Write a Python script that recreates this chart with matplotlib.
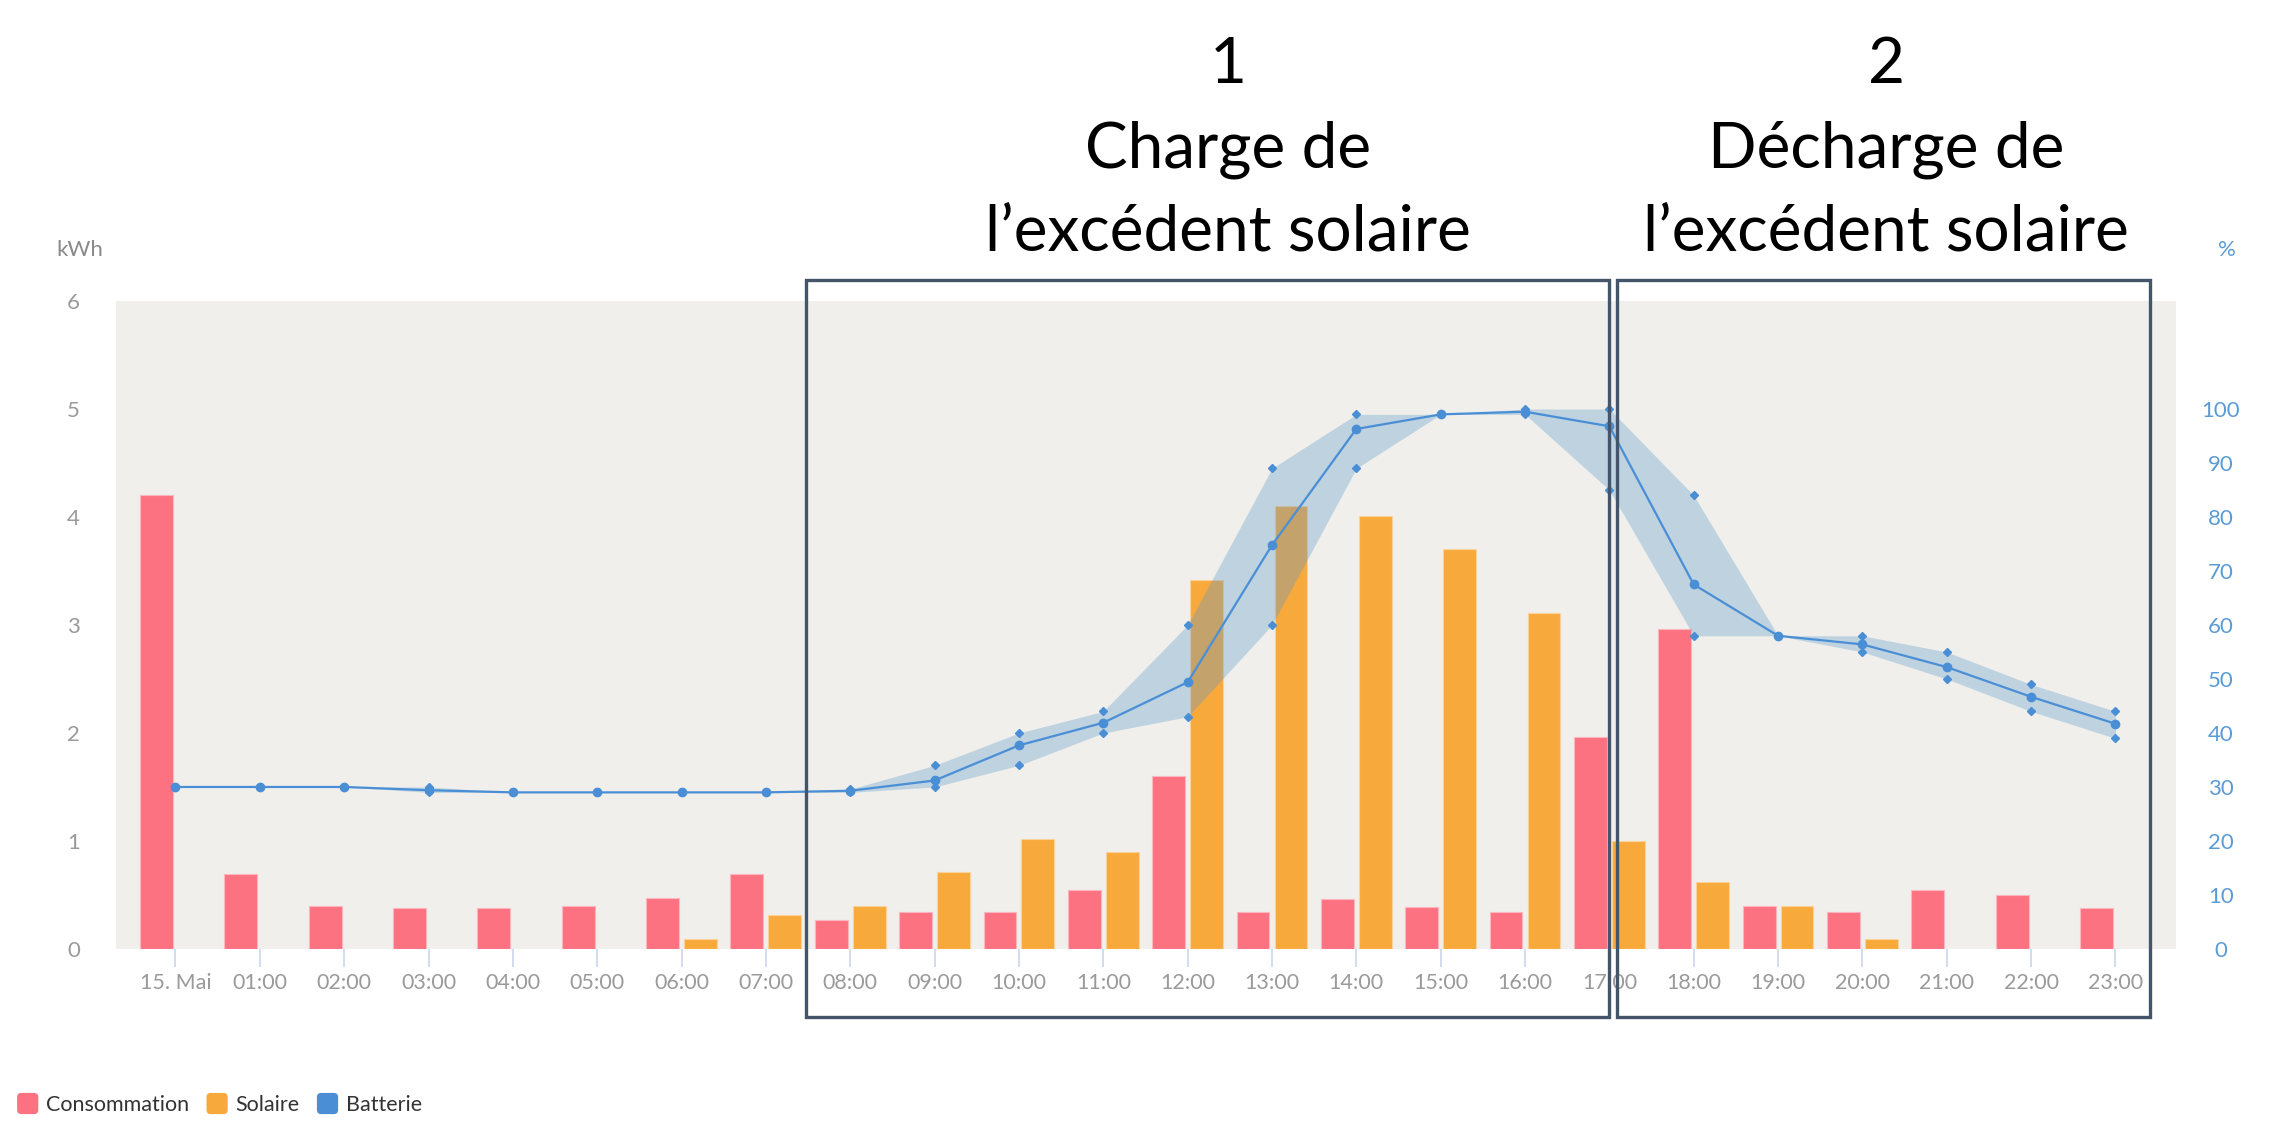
import numpy as np
import matplotlib.pyplot as plt
from matplotlib.patches import Rectangle, Patch, FancyBboxPatch
from matplotlib.legend_handler import HandlerPatch

hours = ["15. Mai", "01:00", "02:00", "03:00", "04:00", "05:00", "06:00", "07:00",
         "08:00", "09:00", "10:00", "11:00", "12:00", "13:00", "14:00", "15:00",
         "16:00", "17:00", "18:00", "19:00", "20:00", "21:00", "22:00", "23:00"]

# kWh
consommation = [4.20, 0.69, 0.40, 0.38, 0.38, 0.40, 0.47, 0.69, 0.27, 0.34, 0.34, 0.55,
                1.60, 0.34, 0.46, 0.39, 0.34, 1.96, 2.96, 0.40, 0.34, 0.55, 0.50, 0.38]
solaire = [0, 0, 0, 0, 0, 0, 0.09, 0.31, 0.40, 0.71, 1.02, 0.90,
           3.42, 4.10, 4.01, 3.70, 3.11, 1.00, 0.62, 0.40, 0.09, 0, 0, 0]

# battery state of charge, %
batterie = [30, 30, 30, 29.4, 29, 29, 29, 29, 29.3, 31.2, 37.7, 41.9,
            49.4, 74.8, 96.3, 99, 99.5, 96.8, 67.5, 58, 56.4, 52.2, 46.7, 41.7]
batterie_haut = [30, 30, 30, 30, 29, 29, 29, 29, 29.6, 34, 40, 44,
                 60, 89, 99, 99, 100, 100, 84, 58, 58, 55, 49, 44]
batterie_bas = [30, 30, 30, 29, 29, 29, 29, 29, 29, 30, 34, 40,
                43, 60, 89, 99, 99, 85, 58, 58, 55, 50, 44, 39]

kwh_ticks = [0, 1, 2, 3, 4, 5, 6]
pct_ticks = [0, 10, 20, 30, 40, 50, 60, 70, 80, 90, 100]

C_CONS = "#fc7281"
C_SOL = "#f7a93c"
C_BAT = "#4a8fd6"
C_BOX = "#44546a"

plt.rcParams["font.family"] = ["Lato", "DejaVu Sans"]


class RoundSquare(HandlerPatch):
    def create_artists(self, legend, orig_handle, xdescent, ydescent, width, height,
                       fontsize, trans):
        s = min(width, height) * 1.1
        p = FancyBboxPatch((-xdescent, -ydescent + (height - s) / 2), s, s,
                           boxstyle="round,pad=0,rounding_size=%f" % (s * 0.2),
                           fc=orig_handle.get_facecolor(), ec="none", transform=trans)
        return [p]


fig = plt.figure(figsize=(22.78, 11.32), dpi=100)
ax = fig.add_axes([0.0509, 0.1617, 0.9044, 0.5724])
ax.set_facecolor("#f0efeb")

x = np.arange(len(hours))
cons = np.array(consommation)
sol = np.array(solaire)
ax.bar(x - 0.225, cons, width=0.39, color=C_CONS, edgecolor="#fdb6bd", lw=0.8, zorder=2)
m = sol > 0
ax.bar(x[m] + 0.225, sol[m], width=0.39, color=C_SOL, edgecolor="#fbd29a", lw=0.8, zorder=2)

ax.set_xlim(-0.706, 23.72)
ax.set_ylim(0, 6)
ax.set_yticks(kwh_ticks)
ax.set_xticks(x)
ax.set_xticklabels(hours)
for s in ax.spines.values():
    s.set_visible(False)
ax.tick_params(axis="x", length=13, width=1.2, color="#ccd6eb", pad=4,
               labelsize=15.5, labelcolor="#9a9a9a")
ax.tick_params(axis="y", length=0, pad=26, labelsize=16, labelcolor="#9a9a9a")

ax2 = ax.twinx()
ax2.set_ylim(0, 120)
ax2.set_yticks(pct_ticks)
for s in ax2.spines.values():
    s.set_visible(False)
ax2.tick_params(axis="y", length=0, pad=32, labelsize=16, labelcolor="#5b9bd5")
for t in ax2.get_yticklabels():
    t.set_horizontalalignment("center")

ax2.fill_between(x, batterie_bas, batterie_haut, color="#5a98cc", alpha=0.33, lw=0, zorder=3)
ax2.plot(x, batterie, color=C_BAT, lw=1.6, marker="o", ms=6, zorder=5)
ax2.plot(x, batterie_haut, ls="none", marker="D", ms=4.5, color=C_BAT, zorder=4)
ax2.plot(x, batterie_bas, ls="none", marker="D", ms=4.5, color=C_BAT, zorder=4)

fig.text(0.0351, 0.779, "kWh", fontsize=16, color="#8a8a8a", ha="center", va="center")
fig.text(0.9776, 0.779, "%", fontsize=16, color="#5b9bd5", ha="center", va="center")

# highlighted periods
for x0, x1 in [(7.48, 17.0), (17.09, 23.41)]:
    fig.add_artist(Rectangle((x0, -0.63), x1 - x0, 6.82, transform=ax.transData,
                             fill=False, ec=C_BOX, lw=2.4, zorder=10))

for xc, lines in [(0.539, ["1", "Charge de", "l’excédent solaire"]),
                  (0.828, ["2", "Décharge de", "l’excédent solaire"])]:
    for yc, s in zip([0.9426, 0.8675, 0.795], lines):
        fig.text(xc, yc, s, fontsize=46, color="black", ha="center", va="center")

handles = [Patch(color=C_CONS, label="Consommation"),
           Patch(color=C_SOL, label="Solaire"),
           Patch(color=C_BAT, label="Batterie")]
fig.legend(handles=handles, loc="lower left", bbox_to_anchor=(-0.001, -0.002), ncol=3,
           frameon=False, handlelength=1.0, handleheight=1.0, handletextpad=0.35,
           columnspacing=0.8, fontsize=15.5, labelcolor="#333333",
           handler_map={Patch: RoundSquare()})

fig.savefig("out.png", dpi=100)
